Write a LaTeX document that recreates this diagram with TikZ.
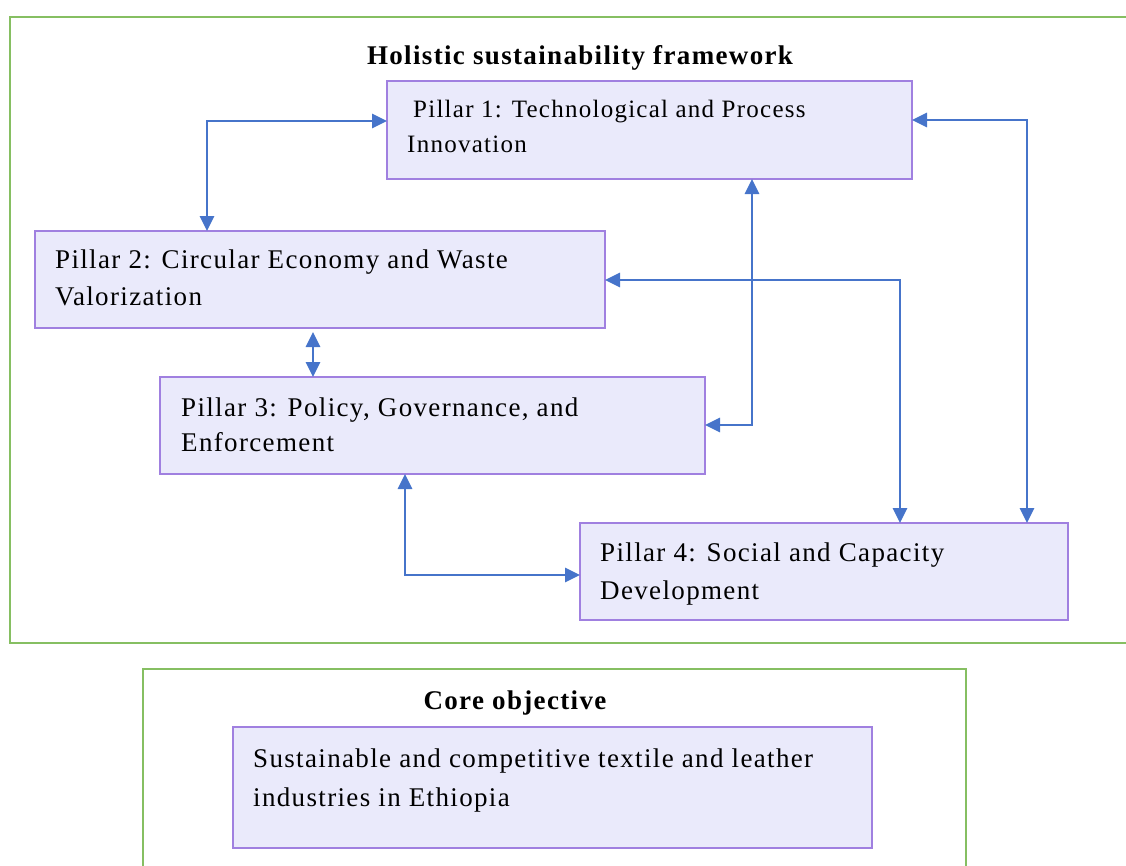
\documentclass[tikz,border=0pt]{standalone}
\usepackage{fontspec}
\setmainfont{Liberation Serif}
\newfontfamily\pf{Liberation Serif}[LetterSpace=5.0]
\usetikzlibrary{arrows.meta,calc}
\definecolor{boxfill}{HTML}{EAEAFB}
\definecolor{boxline}{HTML}{A080E0}
\definecolor{arrblue}{HTML}{4674CA}
\definecolor{framegreen}{HTML}{86BF62}
\newcommand{\twoln}[2]{\vtop{\hbox{#1}\hbox{#2}}}
\tikzset{
  pbox/.style={draw=boxline, fill=boxfill, line width=2.8pt, inner sep=0pt, outer sep=0pt, anchor=north west},
  ptext/.style={anchor=base west, inner sep=0pt, font=\pf\fontsize{27}{37}\selectfont},
  ttl/.style={anchor=base, inner sep=0pt, font=\pf\bfseries\fontsize{27}{30}\selectfont},
  frame/.style={draw=framegreen, line width=2.8pt},
  arr/.style={draw=arrblue, line width=2.8pt, {Triangle[length=15pt,width=14pt]}-{Triangle[length=15pt,width=14pt]}}
}
\begin{document}
\begin{tikzpicture}[x=1pt,y=-1pt]
\useasboundingbox (0,0) rectangle (1126,865);
% frames
\draw[frame] (1140,17) -- (10,17) -- (10,643) -- (1140,643);
\draw[frame] (143,880) -- (143,669) -- (966,669) -- (966,880);
\node[ttl] (t1) at (580,64) {Holistic sustainability framework};
\node[ttl] (t2) at (515,709) {Core objective};
% boxes
\node[pbox, minimum width=525pt, minimum height=98pt] (p1) at (387,81) {};
\node[pbox, minimum width=570pt, minimum height=97pt] (p2) at (35,231) {};
\node[pbox, minimum width=545pt, minimum height=97pt] (p3) at (160,377) {};
\node[pbox, minimum width=488pt, minimum height=97pt] (p4) at (580,523) {};
\node[pbox, minimum width=639pt, minimum height=121pt] (ob) at (233,727) {};
% texts
\node[ptext, font=\pf\fontsize{25}{35}\selectfont] (p1t) at ($(p1.north west)+(20,36)$) {\twoln{\hspace{6pt}Pillar 1: Technological and Process}{Innovation}};
\node[ptext] (p2t) at ($(p2.north west)+(20,37)$) {\twoln{Pillar 2: Circular Economy and Waste}{Valorization}};
\node[ptext, font=\pf\fontsize{27}{35}\selectfont] (p3t) at ($(p3.north west)+(21,39)$) {\twoln{Pillar 3: Policy, Governance, and}{Enforcement}};
\node[ptext, font=\pf\fontsize{27}{38}\selectfont] (p4t) at ($(p4.north west)+(20,38)$) {\twoln{Pillar 4: Social and Capacity}{Development}};
\node[ptext, font=\pf\fontsize{27}{39}\selectfont] (obt) at ($(ob.north west)+(20,40)$) {\twoln{Sustainable and competitive textile and leather}{industries in Ethiopia}};
% connectors
\coordinate (c12a) at ($(p1.north west)+(0,40)$);
\coordinate (c12b) at ($(p2.north west)+(172,0)$);
\draw[arr] (c12a) -| (c12b);
\coordinate (c13a) at ($(p1.south west)+(365,0)$);
\coordinate (c13b) at ($(p3.north east)+(0,48)$);
\draw[arr] (c13a) |- (c13b);
\coordinate (c24a) at ($(p2.north east)+(0,49)$);
\coordinate (c24b) at ($(p4.north west)+(320,0)$);
\draw[arr] (c24a) -| (c24b);
\coordinate (c14a) at ($(p1.north east)+(0,39)$);
\coordinate (c14b) at ($(p4.north west)+(447,0)$);
\draw[arr] (c14a) -| (c14b);
\coordinate (c23a) at ($(p2.south west)+(278,0)$);
\coordinate (c23b) at ($(p3.north west)+(153,0)$);
\draw[arr, shorten <=4pt] (c23a) -- (c23b);
\coordinate (c34a) at ($(p3.south west)+(245,0)$);
\coordinate (c34b) at ($(p4.north west)+(0,52)$);
\draw[arr] (c34a) |- (c34b);
\end{tikzpicture}
\end{document}
